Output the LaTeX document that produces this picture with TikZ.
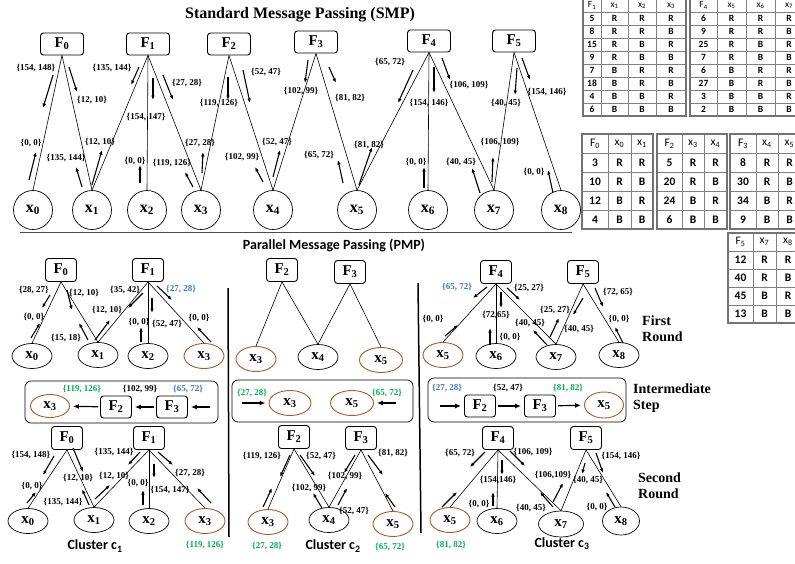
\documentclass[tikz,border=0pt]{standalone}
\usepackage{fontspec}
\setmainfont{Liberation Serif}
\setsansfont{Carlito}
\usetikzlibrary{arrows.meta,shapes.geometric}
\definecolor{xbrown}{RGB}{170,90,40}
\definecolor{xgreen}{RGB}{0,176,80}
\definecolor{xblue}{RGB}{68,114,196}
\begin{document}
\begin{tikzpicture}[x=1pt,y=-1pt,
 fac/.style={draw,line width=0.9pt,rounded corners=3pt,minimum width=43pt,minimum height=22pt,inner sep=0pt,font=\bfseries\fontsize{15}{15}\selectfont},
 pfac/.style={fac,minimum width=31pt,minimum height=23pt},
 var/.style={draw,circle,line width=0.7pt,minimum size=39pt,inner sep=0pt,font=\bfseries\fontsize{16}{16}\selectfont},
 pvar/.style={draw,ellipse,line width=0.7pt,minimum width=40pt,minimum height=25pt,inner sep=0pt,font=\bfseries\fontsize{15}{15}\selectfont},
 bvar/.style={pvar,draw=xbrown,line width=0.9pt},
 link/.style={line width=0.6pt},
 msg/.style={-{Latex[length=4.5pt,width=3.5pt]},line width=1.1pt},
 flow/.style={-{Latex[length=6pt,width=5pt]},line width=1.2pt,shorten >=3pt,shorten <=2pt},
 lbl/.style={font=\bfseries\fontsize{9}{9}\selectfont,inner sep=0pt},
 rnd/.style={anchor=west,align=left,inner sep=0pt,font=\bfseries\fontsize{14}{16}\selectfont},
 clu/.style={font=\sffamily\bfseries\fontsize{14}{14}\selectfont},
 stepframe/.style={draw,line width=0.7pt,rounded corners=6pt},
 tgrid/.style={draw=black!50,line width=0.5pt},
 tframe/.style={draw=black!55,line width=1.1pt},
 thd/.style={font=\sffamily\fontsize{9.5}{9.5}\selectfont,inner sep=0pt},
 tcl/.style={font=\sffamily\bfseries\fontsize{9.5}{9.5}\selectfont,inner sep=0pt},
 Thd/.style={font=\sffamily\fontsize{11.5}{11.5}\selectfont,inner sep=0pt},
 Tcl/.style={font=\sffamily\bfseries\fontsize{11.5}{11.5}\selectfont,inner sep=0pt}]
\useasboundingbox (0,0) rectangle (795,563);

%% ---------- standard message passing ----------
\node[font=\bfseries\fontsize{16}{16}\selectfont] (smpt) at (300,15) {Standard Message Passing (SMP)};
\node[fac] (sF0) at (62,44) {F\textsubscript{0}};
\node[fac] (sF1) at (148,44) {F\textsubscript{1}};
\node[fac] (sF2) at (229,44) {F\textsubscript{2}};
\node[fac] (sF3) at (316,42) {F\textsubscript{3}};
\node[fac] (sF4) at (429,41) {F\textsubscript{4}};
\node[fac] (sF5) at (514,41) {F\textsubscript{5}};
\foreach \n/\x in {0/33,1/92,2/147,3/201,4/273,5/357,6/428,7/494,8/561}
  \node[var] (sx\n) at (\x,210) {x\textsubscript{\n}};
\foreach \f/\v in {sF0/sx0,sF0/sx1,sF1/sx1,sF1/sx2,sF1/sx3,sF2/sx3,sF2/sx4,sF3/sx4,sF3/sx5,sF4/sx5,sF4/sx6,sF4/sx7,sF5/sx7,sF5/sx8}
  \draw[link] (\f.south) -- (\v.north);
\foreach \xa/\ya/\xb/\yb in {53/75/43/108,29/180/36/152,69/67/77/92,82/187/76/167,139/67/131/85,92/185/102/150,
  153/78/153/100,140/183/140/165,163/75/173/100,193/187/185/172,228/77/228/100,202/173/203/152,
  243/70/250/103,273/177/280/150,308/60/305/83,263/182/255/167,329/67/336/83,343/183/338/160,
  413/70/398/103,359/185/372/147,434/67/434/93,424/188/424/167,442/58/450/80,480/193/472/168,
  517/68/515/95,492/182/493/157,522/58/530/80,553/193/548/170}
  \draw[msg] (\xa,\ya) -- (\xb,\yb);
\foreach \x/\y/\txt [count=\i] in {36/68/{154, 148},31/143/{0, 0},92/100/{12, 10},66/158/{135, 144},
  112/68/{135, 144},100/142/{12, 10},146/117/{154, 147},135/161/{0, 0},187/83/{27, 28},172/163/{119, 126},
  219/103/{119, 126},200/143/{27, 28},266/72/{52, 47},277/142/{52, 47},301/91/{102, 99},242/157/{102, 99},
  350/98/{81, 82},319/155/{65, 72},390/62/{65, 72},369/145/{81, 82},429/103/{154, 146},416/162/{0, 0},
  469/85/{106, 109},461/162/{40, 45},506/103/{40, 45},500/142/{106, 109},547/92/{154, 146},534/172/{0, 0}}
  \node[lbl] (sm\i) at (\x,\y) {\{\txt\}};

\draw[black!70,line width=0.8pt] (20,232) -- (572,232);

%% ---------- parallel message passing ----------
\node[font=\sffamily\bfseries\fontsize{14}{14}\selectfont] (pmpt) at (334,245) {Parallel Message Passing (PMP)};
\draw[line width=1.5pt] (228,288) -- (229,537);
\draw[line width=1.5pt] (418,283) -- (421,533);

% first round
\node[pfac] (r1F0) at (61,270) {F\textsubscript{0}};
\node[pfac] (r1F1) at (148,270) {F\textsubscript{1}};
\node[pfac] (r1F2) at (282,270) {F\textsubscript{2}};
\node[pfac] (r1F3) at (350,272) {F\textsubscript{3}};
\node[pfac] (r1F4) at (496,272) {F\textsubscript{4}};
\node[pfac] (r1F5) at (583,272) {F\textsubscript{5}};
\node[pvar] (r1x0) at (32,356) {x\textsubscript{0}};
\node[pvar] (r1x1) at (98,355) {x\textsubscript{1}};
\node[pvar] (r1x2) at (148,356) {x\textsubscript{2}};
\node[bvar] (r1x3) at (204,356) {x\textsubscript{3}};
\node[bvar] (r1y3) at (256,359) {x\textsubscript{3}};
\node[pvar] (r1y4) at (318,357) {x\textsubscript{4}};
\node[bvar,minimum width=43pt] (r1y5) at (381,360) {x\textsubscript{5}};
\node[bvar] (r1z5) at (443,355) {x\textsubscript{5}};
\node[pvar] (r1z6) at (496,356) {x\textsubscript{6}};
\node[pvar] (r1z7) at (556,357) {x\textsubscript{7}};
\node[pvar] (r1z8) at (619,355) {x\textsubscript{8}};
\foreach \f/\v in {r1F0/r1x0,r1F0/r1x1,r1F1/r1x1,r1F1/r1x2,r1F1/r1x3,r1F2/r1y3,r1F2/r1y4,r1F3/r1y4,r1F3/r1y5,
  r1F4/r1z5,r1F4/r1z6,r1F4/r1z7,r1F5/r1z7,r1F5/r1z8}
  \draw[link] (\f.south) -- (\v.north);
\foreach \xa/\ya/\xb/\yb in {50/295/42/308,31/338/40/323,67/290/72/310,88/340/79/323,143/293/128/308,
  95/340/110/320,152/298/152/313,141/342/141/327,157/286/172/300,211/342/197/327,
  487/287/473/298,445/336/458/325,501/292/501/308,490/345/490/328,507/288/520/300,
  547/345/533/330,583/298/573/315,550/337/559/318,595/288/603/307,623/343/615/327}
  \draw[msg] (\xa,\ya) -- (\xb,\yb);
\foreach \x/\y/\col/\txt [count=\i] in {34/290/black/{28, 27},34/317/black/{0, 0},84/293/black/{12, 10},
  66/338/black/{15, 18},125/290/black/{35, 42},107/310/black/{12, 10},167/324/black/{52, 47},
  139/322/black/{0, 0},181/289/xblue/{27, 28},199/318/black/{0, 0},
  457/287/xblue/{65, 72},433/319/black/{0, 0},496/315/black/{72,65},510/337/black/{0, 0},
  529/288/black/{25, 27},530/323/black/{40, 45},579/329/black/{40, 45},555/310/black/{25, 27},
  618/292/black/{72, 65},619/319/black/{0, 0}}
  \node[lbl,text=\col] (ra\i) at (\x,\y) {\{\txt\}};
\node[rnd] (rnd1) at (642,329) {First\\Round};

% intermediate step
\draw[stepframe] (25,381) rectangle (218,423);
\node[bvar,minimum width=39pt,minimum height=23pt] (i1x3) at (50,406) {x\textsubscript{3}};
\node[pfac,minimum height=22pt] (i1F2) at (116,407) {F\textsubscript{2}};
\node[pfac,minimum height=22pt] (i1F3) at (172,407) {F\textsubscript{3}};
\coordinate (i1in) at (212,407);
\draw[flow] (i1in) -- (i1F3);
\draw[flow] (i1F3) -- (i1F2);
\draw[flow] (i1F2) -- (i1x3);
\draw[stepframe] (232,380) rectangle (413,422);
\node[bvar,minimum width=42pt] (i2x3) at (290,403) {x\textsubscript{3}};
\node[bvar,minimum width=43pt] (i2x5) at (352,403) {x\textsubscript{5}};
\coordinate (i2inl) at (240,403);
\coordinate (i2inr) at (398,403);
\draw[flow] (i2inl) -- (i2x3);
\draw[flow] (i2inr) -- (i2x5);
\draw[stepframe] (428,378) rectangle (626,422);
\node[pfac,minimum height=22pt] (i3F2) at (480,406) {F\textsubscript{2}};
\node[pfac,minimum height=22pt] (i3F3) at (540,406) {F\textsubscript{3}};
\node[bvar,minimum width=39pt,minimum height=26pt] (i3x5) at (604,405) {x\textsubscript{5}};
\coordinate (i3in) at (438,406);
\draw[flow] (i3in) -- (i3F2);
\draw[flow] (i3F2) -- (i3F3);
\draw[flow] (i3F3) -- (i3x5);
\foreach \x/\y/\col/\txt [count=\i] in {82/389/xgreen/{119, 126},140/389/black/{102, 99},188/389/xblue/{65, 72},
  252/393/xgreen/{27, 28},387/393/xgreen/{65, 72},447/388/xblue/{27, 28},508/388/black/{52, 47},568/388/xgreen/{81, 82}}
  \node[lbl,text=\col] (rb\i) at (\x,\y) {\{\txt\}};
\node[rnd] (rnd2) at (633,398) {Intermediate\\Step};

% second round
\node[pfac] (r2F0) at (67,438) {F\textsubscript{0}};
\node[pfac] (r2F1) at (149,438) {F\textsubscript{1}};
\node[pfac] (r2F2) at (294,437) {F\textsubscript{2}};
\node[pfac] (r2F3) at (361,438) {F\textsubscript{3}};
\node[pfac] (r2F4) at (498,438) {F\textsubscript{4}};
\node[pfac] (r2F5) at (586,438) {F\textsubscript{5}};
\node[pvar] (r2x0) at (28,521) {x\textsubscript{0}};
\node[pvar] (r2x1) at (94,520) {x\textsubscript{1}};
\node[pvar] (r2x2) at (149,521) {x\textsubscript{2}};
\node[bvar] (r2x3) at (205,521) {x\textsubscript{3}};
\node[bvar] (r2y3) at (268,522) {x\textsubscript{3}};
\node[pvar] (r2y4) at (329,520) {x\textsubscript{4}};
\node[bvar] (r2y5) at (393,524) {x\textsubscript{5}};
\node[bvar] (r2z5) at (450,520) {x\textsubscript{5}};
\node[pvar] (r2z6) at (497,521) {x\textsubscript{6}};
\node[pvar,minimum width=45pt,minimum height=26pt] (r2z7) at (561,524) {x\textsubscript{7}};
\node[pvar,minimum width=37pt,minimum height=28pt] (r2z8) at (621,521) {x\textsubscript{8}};
\foreach \f/\v in {r2F0/r2x0,r2F0/r2x1,r2F1/r2x1,r2F1/r2x2,r2F1/r2x3,r2F2/r2y3,r2F2/r2y4,r2F3/r2y4,r2F3/r2y5,
  r2F4/r2z5,r2F4/r2z6,r2F4/r2z7,r2F5/r2z7,r2F5/r2z8}
  \draw[link] (\f.south) -- (\v.north);
\foreach \xa/\ya/\xb/\yb in {54/456/43/475,27/503/36/492,73/448/83/472,89/505/82/489,140/452/128/465,
  95/499/110/485,154/464/154/478,143/505/143/490,158/452/173/465,211/503/197/488,
  290/455/280/477,263/507/272/488,300/455/315/476,322/508/313/493,355/455/344/473,
  338/505/347/488,368/455/383/475,395/507/385/493,
  485/452/470/467,442/507/457/492,502/460/502/475,493/506/493/492,510/451/525/466,
  553/507/540/492,585/463/582/474,553/502/563/483,596/453/603/473,615/507/606/492}
  \draw[msg] (\xa,\ya) -- (\xb,\yb);
\foreach \x/\y/\col/\txt [count=\i] in {31/455/black/{154, 148},32/486/black/{0, 0},78/478/black/{12, 10},
  63/502/black/{135, 144},114/452/black/{135, 144},114/476/black/{12, 10},170/490/black/{154, 147},
  138/483/black/{0, 0},190/473/black/{27, 28},205/545/xgreen/{119, 126},
  262/456/black/{119, 126},321/456/black/{52, 47},309/488/black/{102, 99},345/476/black/{102, 99},
  354/511/black/{52, 47},393/453/black/{81, 82},267/546/xgreen/{27, 28},390/547/xgreen/{65, 72},
  460/453/black/{65, 72},498/480/black/{154,146},479/504/black/{0, 0},533/452/black/{106, 109},
  531/508/black/{40, 45},588/480/black/{40, 45},553/475/black/{106,109},621/456/black/{154, 146},
  597/507/black/{0, 0},451/545/xgreen/{81, 82}}
  \node[lbl,text=\col] (rc\i) at (\x,\y) {\{\txt\}};
\node[rnd] (rnd3) at (638,486) {Second\\Round};
\node[clu] (cl1) at (95,546) {Cluster c\textsubscript{1}};
\node[clu] (cl2) at (333,546) {Cluster c\textsubscript{2}};
\node[clu] (cl3) at (562,544) {Cluster c\textsubscript{3}};

%% ---------- factor tables ----------
\foreach \nm/\xa/\xb/\xc/\xd/\xe/\fn/\ua/\ub/\uc/\vals in {
  A/583/601/628/656/686/1/1/2/3/{5/R/R/R,8/R/R/B,15/R/B/R,9/R/B/B,7/B/R/R,18/B/R/B,4/B/B/R,6/B/B/B},
  B/690/717/746/775/803/4/5/6/7/{6/R/R/R,9/R/R/B,25/R/B/R,7/R/B/B,6/B/R/R,27/B/R/B,3/B/B/R,2/B/B/B}}{
  \foreach \y in {12,25,...,103} \draw[tgrid] (\xa,\y) -- (\xe,\y);
  \foreach \x in {\xb,\xc,\xd} \draw[tgrid] (\x,-1) -- (\x,116);
  \draw[tframe] (\xa,-1) rectangle (\xe,116);
  \node[thd] (t\nm-0-0) at ({(\xa+\xb)/2},5.5) {F\textsubscript{\fn}};
  \node[thd] (t\nm-0-1) at ({(\xb+\xc)/2},5.5) {x\textsubscript{\ua}};
  \node[thd] (t\nm-0-2) at ({(\xc+\xd)/2},5.5) {x\textsubscript{\ub}};
  \node[thd] (t\nm-0-3) at ({(\xd+\xe)/2},5.5) {x\textsubscript{\uc}};
  \foreach \cv/\ca/\cb/\cc [count=\i] in \vals {
    \node[tcl] (t\nm-\i-0) at ({(\xa+\xb)/2},{5.5+13*\i}) {\cv};
    \node[tcl] (t\nm-\i-1) at ({(\xb+\xc)/2},{5.5+13*\i}) {\ca};
    \node[tcl] (t\nm-\i-2) at ({(\xc+\xd)/2},{5.5+13*\i}) {\cb};
    \node[tcl] (t\nm-\i-3) at ({(\xd+\xe)/2},{5.5+13*\i}) {\cc};
  }
}
\foreach \nm/\xa/\xb/\xc/\xd/\ya/\h/\fn/\ua/\ub/\vals in {
  C/582/608/631/653/134/19/0/0/1/{3/R/R,10/R/B,12/B/R,4/B/B},
  D/657/682/704/727/134/19/2/3/4/{5/R/R,20/R/B,24/B/R,6/B/B},
  E/730/756/778/801/134/19/3/4/5/{8/R/R,30/R/B,34/B/R,9/B/B},
  G/728/753/776/800/233/18/5/7/8/{12/R/R,40/R/B,45/B/R,13/B/B}}{
  \foreach \k in {1,...,4} \draw[tgrid] (\xa,{\ya+\h*\k}) -- (\xd,{\ya+\h*\k});
  \foreach \x in {\xb,\xc} \draw[tgrid] (\x,\ya) -- (\x,{\ya+5*\h});
  \draw[tframe] (\xa,\ya) rectangle (\xd,{\ya+5*\h});
  \node[Thd] (t\nm-0-0) at ({(\xa+\xb)/2},{\ya+\h/2}) {F\textsubscript{\fn}};
  \node[Thd] (t\nm-0-1) at ({(\xb+\xc)/2},{\ya+\h/2}) {x\textsubscript{\ua}};
  \node[Thd] (t\nm-0-2) at ({(\xc+\xd)/2},{\ya+\h/2}) {x\textsubscript{\ub}};
  \foreach \cv/\ca/\cb [count=\i] in \vals {
    \node[Tcl] (t\nm-\i-0) at ({(\xa+\xb)/2},{\ya+\h*(\i+0.5)}) {\cv};
    \node[Tcl] (t\nm-\i-1) at ({(\xb+\xc)/2},{\ya+\h*(\i+0.5)}) {\ca};
    \node[Tcl] (t\nm-\i-2) at ({(\xc+\xd)/2},{\ya+\h*(\i+0.5)}) {\cb};
  }
}
\end{tikzpicture}
\end{document}
